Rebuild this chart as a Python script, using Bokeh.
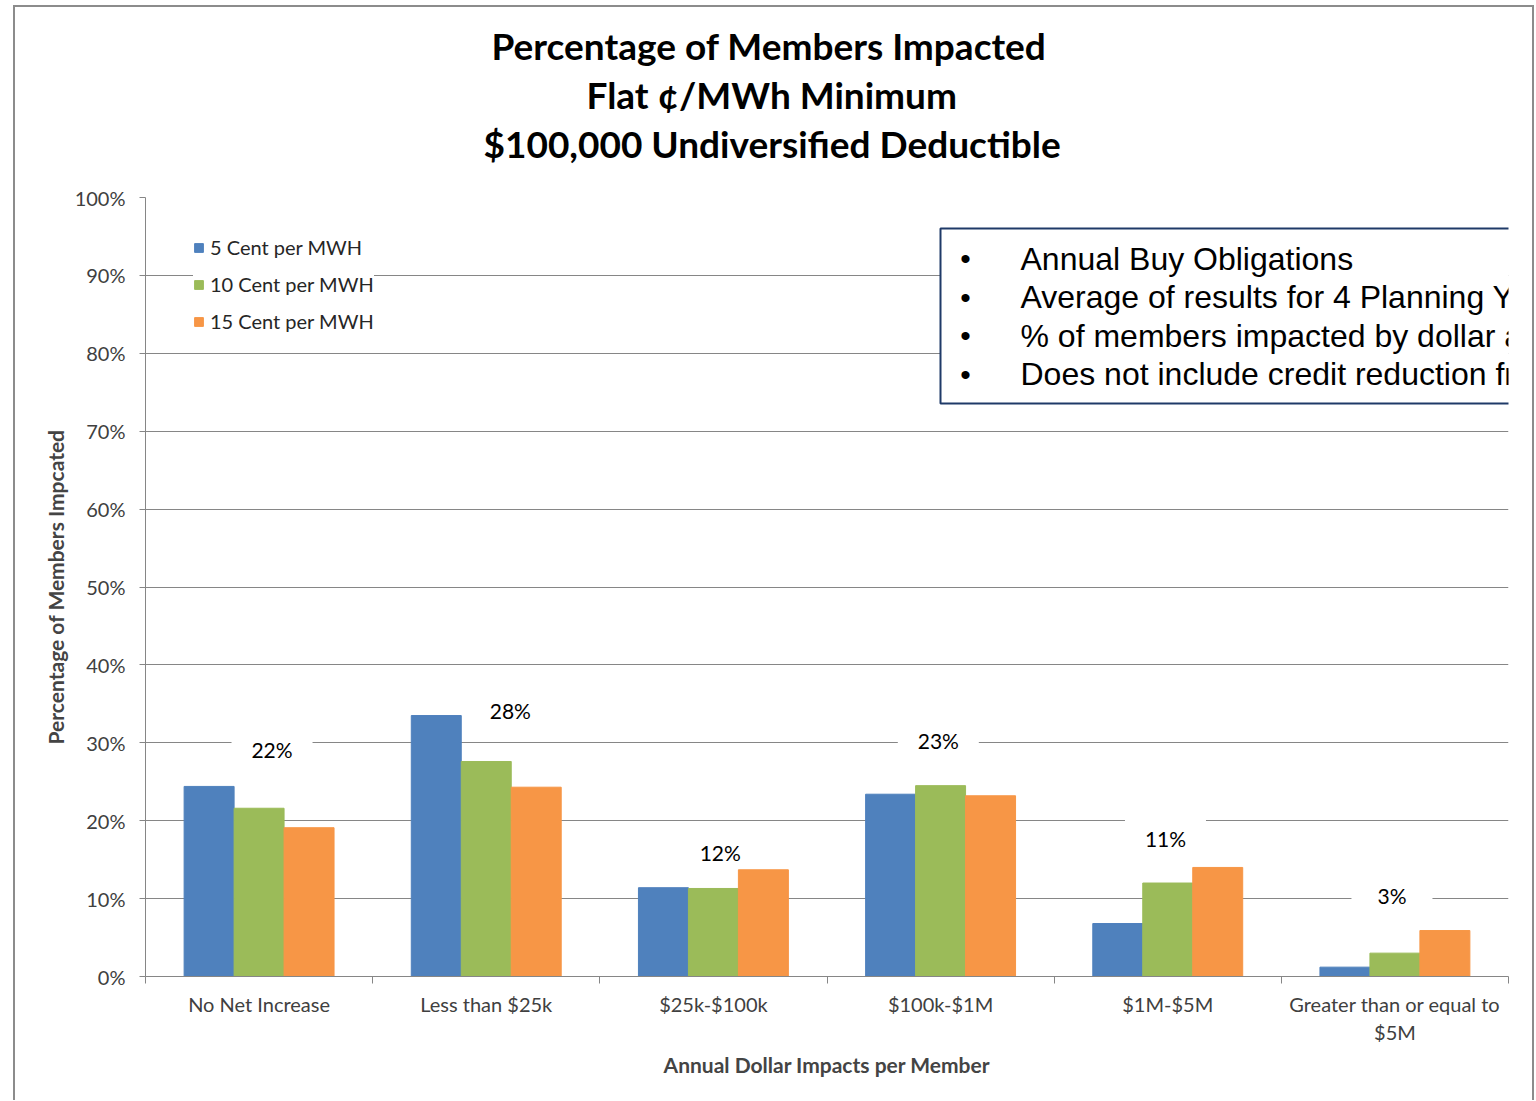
from bokeh.plotting import figure
from bokeh.layouts import column
from bokeh.models import (ColumnDataSource, FixedTicker, PrintfTickFormatter, Legend, LegendItem,
                          BoxAnnotation, Label, Range1d, Title)
from bokeh.core.properties import value
from bokeh.embed import file_html
from bokeh.resources import INLINE

categories = ["No Net Increase", "Less than $25k", "$25k-$100k", "$100k-$1M", "$1M-$5M",
              "Greater than or equal to\n$5M"]
series_names = ["5 Cent per MWH", "10 Cent per MWH", "15 Cent per MWH"]
cent5 = [24.4, 33.5, 11.4, 23.4, 6.8, 1.2]
cent10 = [21.6, 27.6, 11.3, 24.5, 12.0, 3.0]
cent15 = [19.1, 24.3, 13.7, 23.2, 14.0, 5.9]
avg_labels = ["22%", "28%", "12%", "23%", "11%", "3%"]
label_heights = [29.1, 34.1, 15.9, 30.3, 17.7, 10.4]
label_shift = [0.057, 0.106, 0.03, -0.01, -0.01, -0.013]
y_ticks = [0, 10, 20, 30, 40, 50, 60, 70, 80, 90, 100]
notes = ["Annual Buy Obligations",
         "Average of results for 4 Planning Years",
         "% of members impacted by dollar amount",
         "Does not include credit reduction from"]
title_lines = ["Percentage of Members Impacted", "Flat \u00a2/MWh Minimum",
               "$100,000 Undiversified Deductible"]

# layout constants
TITLE_LEFT = [493, 588, 485]     # left edge of each title line on the page
colors = ["#4F81BD", "#9BBB59", "#F79646"]
offsets = [-0.22, 0.0, 0.22]
FONT = "Lato"
GRAY = "#868686"
OX, OY = 15, 7          # figure position on the page (inside the grey frame)

W, H = 1532 - OX, 1100 - OY
p = figure(width=W, height=H, output_backend="svg", toolbar_location=None,
           x_range=Range1d(0, len(categories)), y_range=Range1d(0, 100),
           min_border_left=145 - OX, min_border_right=W - (1508 - OX),
           min_border_top=197 - OY, min_border_bottom=H - (976 - OY))
p.outline_line_color = None
p.xgrid.grid_line_color = None
p.ygrid.grid_line_color = GRAY
p.ygrid.ticker = FixedTicker(ticks=y_ticks)

# axes
p.yaxis.ticker = FixedTicker(ticks=y_ticks)
p.yaxis.formatter = PrintfTickFormatter(format="%d%%")
p.yaxis.axis_line_color = GRAY
p.yaxis.major_tick_line_color = GRAY
p.yaxis.major_tick_out = 6
p.yaxis.major_tick_in = 0
p.yaxis.minor_tick_line_color = None
p.yaxis.major_label_text_font = FONT
p.yaxis.major_label_text_font_size = "20px"
p.yaxis.major_label_text_color = "#404040"
p.yaxis.major_label_standoff = 14
p.yaxis.axis_label = "Percentage of Members Impcated"
p.yaxis.axis_label_text_font = FONT
p.yaxis.axis_label_text_font_style = "bold"
p.yaxis.axis_label_text_font_size = "21px"
p.yaxis.axis_label_standoff = 4

centers = [i + 0.5 for i in range(len(categories))]
p.xaxis.ticker = FixedTicker(ticks=centers, minor_ticks=list(range(len(categories) + 1)))
p.xaxis.major_label_overrides = {c: lab for c, lab in zip(centers, categories)}
p.xaxis.major_tick_line_color = None
p.xaxis.minor_tick_line_color = GRAY
p.xaxis.minor_tick_out = 7
p.xaxis.minor_tick_in = 0
p.xaxis.axis_line_color = GRAY
p.xaxis.major_label_text_font = FONT
p.xaxis.major_label_text_font_size = "20px"
p.xaxis.major_label_text_color = "#404040"
p.xaxis.major_label_standoff = 8
p.xaxis.axis_label = "Annual Dollar Impacts per Member"
p.xaxis.axis_label_text_font = FONT
p.xaxis.axis_label_text_font_style = "bold"
p.xaxis.axis_label_text_font_size = "21px"
p.xaxis.axis_label_standoff = 5

# average labels with white background boxes
lab_src = ColumnDataSource(dict(x=[c + s for c, s in zip(centers, label_shift)],
                                y=label_heights, text=avg_labels))
p.rect(x="x", y="y", width=81, height=40, width_units="screen", height_units="screen",
       source=lab_src, fill_color="white", line_color=None)
p.text(x="x", y="y", text="text", source=lab_src, text_align="center", text_baseline="middle",
       text_font=value(FONT), text_font_size="21px", text_color="#000000")

# bars
items = []
for vals, col, off, name in zip([cent5, cent10, cent15], colors, offsets, series_names):
    src = ColumnDataSource(dict(x=[c + off for c in centers], top=vals))
    r = p.vbar(x="x", top="top", width=0.22, bottom=0, source=src, fill_color=col,
               line_color=col, line_width=1)
    items.append(LegendItem(label=name, renderers=[r]))

legend = Legend(items=items, location=(48, 643), orientation="vertical",
                label_text_font=FONT, label_text_font_size="20px", label_text_color="#262626",
                glyph_width=11, glyph_height=11, label_height=22, label_standoff=6,
                spacing=13, padding=10, border_line_color=None,
                background_fill_color="white", background_fill_alpha=1.0)
p.add_layout(legend)

# spacer between plot area and the title block
p.add_layout(Title(text=" ", text_font_size="2px", standoff=27), "above")
# titles (added innermost first)
for i in reversed(range(len(title_lines))):
    p.add_layout(Title(text=title_lines[i], align="left", offset=TITLE_LEFT[i] - 147,
                       text_font=FONT, text_font_style="bold", text_font_size="37px",
                       text_color="#000000", standoff=2), "above")

# notes box
p.add_layout(BoxAnnotation(left=940 - OX, right=1600, top=228 - OY, bottom=403 - OY,
                           left_units="canvas", right_units="canvas", top_units="canvas",
                           bottom_units="canvas", fill_color="white", fill_alpha=1.0,
                           line_color="#1F3A68", line_alpha=1.0, line_width=2))
for i, t in enumerate(notes):
    yy = 258 - OY + 38.5 * i
    p.add_layout(Label(x=965 - OX, y=yy, x_units="canvas", y_units="canvas", text="\u2022",
                       text_align="center", text_baseline="middle", text_font="Liberation Sans",
                       text_font_size="30px", text_color="#000000"))
    p.add_layout(Label(x=1020 - OX, y=yy, x_units="canvas", y_units="canvas", text=t,
                       text_align="left", text_baseline="middle", text_font="Liberation Sans",
                       text_font_size="32px", text_color="#000000"))

frame_line = "2px solid #8C8C8C"
page = column(p, margin=(5, 0, 0, 13),
              styles={"border-left": frame_line, "border-top": frame_line,
                      "border-right": frame_line})

open("out.html", "w").write(file_html(page, INLINE))
